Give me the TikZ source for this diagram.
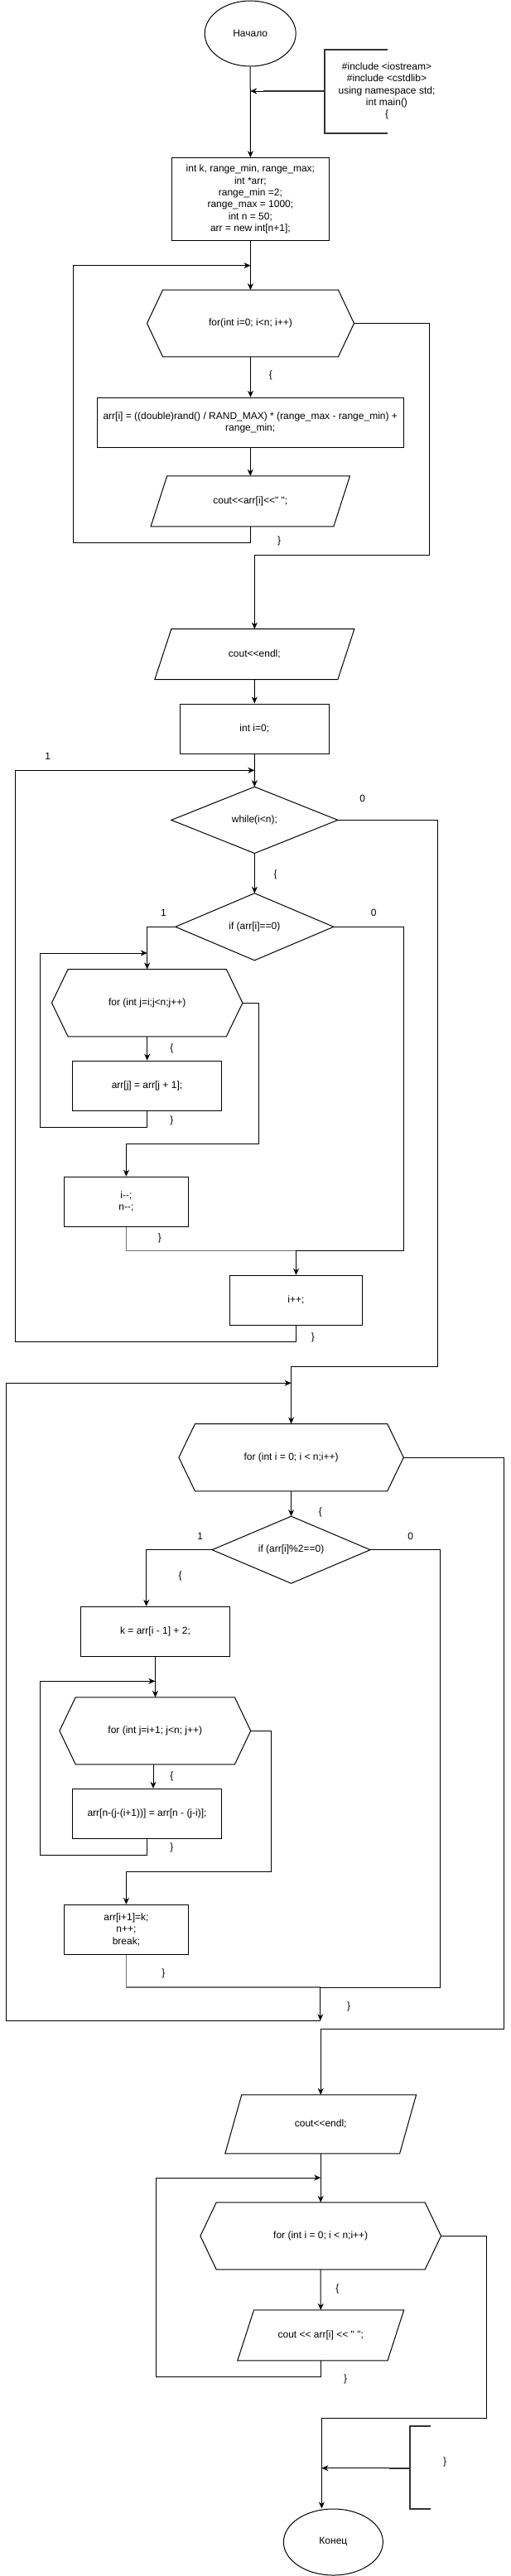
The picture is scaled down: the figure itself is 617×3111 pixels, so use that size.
\documentclass[tikz,border=0pt]{standalone}
\usepackage{fontspec}
\setmainfont{Liberation Sans}[Ligatures=TeXOff]
\usetikzlibrary{calc,arrows.meta,shapes.geometric}
\newcommand\hexout[2]{\draw[shp] ($(#1.north west)+(#2,0)$) -- ($(#1.north east)+(-#2,0)$) -- (#1.east) -- ($(#1.south east)+(-#2,0)$) -- ($(#1.south west)+(#2,0)$) -- (#1.west) -- cycle;}
\newcommand\parout[2]{\draw[shp] ($(#1.north west)+(#2,0)$) -- (#1.north east) -- ($(#1.south east)+(-#2,0)$) -- (#1.south west) -- cycle;}
\newcommand\diaout[1]{\draw[shp] (#1.north) -- (#1.east) -- (#1.south) -- (#1.west) -- cycle;}
\begin{document}
\begin{tikzpicture}[x=1pt,y=-1pt,line width=1pt,
  every node/.style={font=\fontsize{12}{14.4}\selectfont, align=center, inner sep=0pt, text=black},
  bx/.style 2 args={rectangle, minimum width=#1, minimum height=#2},
  shp/.style={draw=black, line width=1pt},
  arr/.style={-{Stealth[length=8pt,width=7pt,inset=2.5pt]}},
  merge/.style={draw=black!55, line width=1.6pt},
  brk/.style={draw=black!80, line width=2pt},
  lbl/.style={}]
\fill[white] (0,0) rectangle (617,3111);
\useasboundingbox (0,0) rectangle (617,3111);

% ---------- nodes ----------
\node[ellipse, draw, minimum width=110, minimum height=79] (start) at (302.2,40.5) {Начало};
\node (n1) at (467,110) {\#include <iostream>\\\#include <cstdlib>\\using namespace std;\\int main()\\\{};
\node[bx={190}{99.6}, draw] (b1) at (302.4,240.5) {int k, range\_min, range\_max;\\int *arr;\\range\_min =2;\\range\_max = 1000;\\int n = 50;\\arr = new int[n+1];};
\node[bx={249}{79.6}] (h1) at (302.5,390.5) {for(int i=0; i<n; i++)}; \hexout{h1}{19}
\node[bx={370.5}{60}, draw] (b2) at (302.25,510.3) {arr[i] = ((double)rand() / RAND\_MAX) * (range\_max - range\_min) +\\range\_min;};
\node[bx={239.4}{60}] (p1) at (302.3,605.3) {cout<<arr[i]<<" ";}; \parout{p1}{19.6}
\node[bx={240}{60}] (p2) at (307.35,790.15) {cout<<endl;}; \parout{p2}{20}
\node[bx={180}{60}, draw] (b3) at (307.3,880) {int i=0;};
\node[bx={200}{79.3}] (d1) at (307.35,990.35) {while(i<n);}; \diaout{d1}
\node[bx={190}{80}] (d2) at (307.35,1119.3) {if (arr[i]==0)}; \diaout{d2}
\node[bx={229.4}{80.3}] (h2) at (177.7,1211.15) {for (int j=i;j<n;j++)}; \hexout{h2}{19.6}
\node[bx={180}{60}, draw] (b4) at (177.5,1311.15) {arr[j] = arr[j + 1];};
\node[bx={150}{60}, draw] (b5) at (152.45,1451.15) {i--;\\n--;};
\node[bx={160}{60}, draw] (b6) at (357.5,1570.3) {i++;};
\node[bx={270.4}{80.3}] (h3) at (351.6,1760.15) {for (int i = 0; i < n;i++)}; \hexout{h3}{19.6}
\node[bx={190}{80}] (d3) at (351.6,1871.7) {if (arr[i]\%2==0)}; \diaout{d3}
\node[bx={180}{60}, draw] (b7) at (187.5,1970.3) {k = arr[i - 1] + 2;};
\node[bx={229.8}{80}] (h4) at (187.3,2090.3) {for (int j=i+1; j<n; j++)}; \hexout{h4}{19.3}
\node[bx={180}{60}, draw] (b8) at (177.5,2190.3) {arr[n-(j-(i+1))] = arr[n - (j-i)];};
\node[bx={150}{60}, draw] (b9) at (152.45,2330.3) {arr[i+1]=k;\\n++;\\break;};
\node[bx={229.8}{70}] (p3) at (387.2,2565.3) {cout<<endl;}; \parout{p3}{20}
\node[bx={289.6}{80}] (h5) at (387.2,2700.3) {for (int i = 0; i < n;i++)}; \hexout{h5}{19.3}
\node[bx={199.9}{60}] (p4) at (387.25,2820.3) {cout << arr[i] << " ";}; \parout{p4}{19.7}
\node[ellipse, draw, minimum width=120, minimum height=80] (stop) at (402.4,3070) {Конец};
\node (n2) at (537,2973) {\}};

% ---------- annotations ----------
\draw[brk] (467.5,60) -- (392,60) -- (392,160.7) -- (467.5,160.7);
\draw[brk] (392,110) -- (318,110);
\coordinate (s1) at (318,110);
\draw[arr] (s1) -- (s1 -| start.south);
\draw[brk] (520.2,2930.3) -- (495,2930.3) -- (495,3030) -- (520.2,3030);
\draw[brk] (495,2980.7) -- (470.2,2980.7);
\coordinate (s2) at (470.2,2980.7);
\coordinate (k6) at (388.4,2920);
\draw[arr] (s2) -- (s2 -| k6);

% ---------- connectors ----------
\draw[arr] (start.south) -- (b1.north);
\draw[arr] (b1.south) -- (b1.south |- h1.north);
\draw[arr] (p1.south) |- (88.5,655.3) |- (h1.north |- 0,320.7);
\draw[arr] (h1.south) -- (h1.south |- b2.north);
\draw[arr] (b2.south) -- (b2.south |- p1.north);
\draw[arr] (h1.east) -| (518,670) -| (p2.north);
\draw[arr] (p2.south) -- (b3.north);
\draw[arr] (b3.south) -- (d1.north);
\draw[arr] (d1.south) -- (d2.north);
\draw[arr] (d2.west) -| (h2.north);
\draw[arr] (h2.south) -- (h2.south |- b4.north);
\draw[arr] (b4.south) |- (48.4,1361.3) |- (h2.north |- 0,1151);
\draw[arr] (h2.east) -| (312,1381.3) -| (b5.north);
\coordinate (j3) at (357.5,1510.3);
\draw[merge] (b5.south) |- (j3);
\draw (d2.east) -| (487.5,1510.3) -- (j3);
\draw[arr] (j3) -- (b6.north);
\draw[arr] (b6.south) |- (18.5,1620.3) |- (d1.north |- 0,930.3);
\draw[arr] (d1.east) -| (528,1650.3) -| (h3.north);
\draw[arr] (h3.south) -- (d3.north);
\draw[arr] (d3.west) -| (b7.north -| 176.7,0);
\draw[arr] (b7.south) -- (b7.south |- h4.north);
\draw[arr] (h4.south -| 185,0) -- (b8.north -| 185,0);
\draw[arr] (b8.south) |- (48.4,2240) |- (h4.north |- 0,2030.3);
\draw[arr] (h4.east) -| (327,2260) -| (b9.north);
\coordinate (j5) at (386.8,2400);
\coordinate (j6) at (386.8,2440.3);
\draw[merge] (b9.south) |- (j5);
\draw (d3.east) -| (531.2,2400) -- (j5);
\draw[arr] (j5) -- (j6);
\draw[arr] (j6) -- (7.1,2440.3) |- (h3.north |- 0,1670.3);
\draw[arr] (h3.east) -| (608.7,2450.3) -| (p3.north);
\draw[arr] (p3.south) -- (h5.north);
\draw[arr] (h5.south) -- (p4.north);
\draw[arr] (p4.south) |- (188.9,2870.3) |- (h5.north |- 0,2630);
\draw[arr] (h5.east) -| (587.5,2920) -| (stop.north -| k6);

% ---------- labels ----------
\node[lbl] (l1) at (327,453) {\{};
\node[lbl] (l2) at (337,653) {\}};
\node[lbl] (l3) at (57.8,913) {1};
\node[lbl] (l4) at (437.6,964.3) {0};
\node[lbl] (l5) at (332.5,1056) {\{};
\node[lbl] (l6) at (197.5,1102.7) {1};
\node[lbl] (l7) at (451.3,1102.7) {0};
\node[lbl] (l8) at (207.4,1266.7) {\{};
\node[lbl] (l9) at (207.4,1353.3) {\}};
\node[lbl] (l10) at (192.8,1495.7) {\}};
\node[lbl] (l11) at (377.8,1615) {\}};
\node[lbl] (l12) at (386.8,1826) {\{};
\node[lbl] (l13) at (241.6,1855) {1};
\node[lbl] (l14) at (495.8,1855) {0};
\node[lbl] (l15) at (217.6,1903.3) {\{};
\node[lbl] (l16) at (207.4,2145.7) {\{};
\node[lbl] (l17) at (207.4,2231.7) {\}};
\node[lbl] (l18) at (197.5,2383.3) {\}};
\node[lbl] (l19) at (421,2423.3) {\}};
\node[lbl] (l20) at (407.3,2764) {\{};
\node[lbl] (l21) at (417,2873.3) {\}};
\end{tikzpicture}
\end{document}
